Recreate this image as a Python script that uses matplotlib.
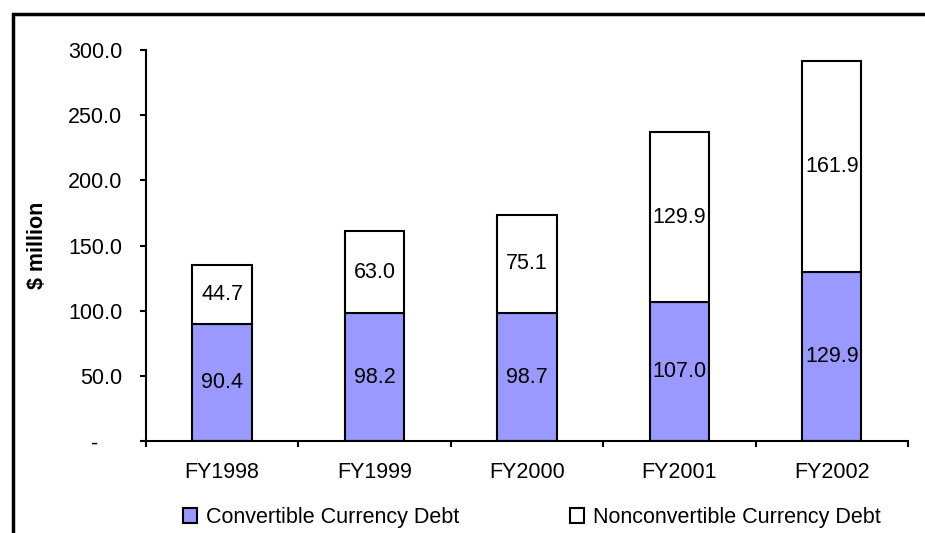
import numpy as np
import matplotlib.pyplot as plt
import matplotlib.transforms as mtransforms
from matplotlib.patches import Patch, Rectangle

plt.rcParams['font.family'] = ['Liberation Sans', 'DejaVu Sans']

# Debt by fiscal year ($ million)
years = ["FY1998", "FY1999", "FY2000", "FY2001", "FY2002"]
convertible = [90.4, 98.2, 98.7, 107.0, 129.9]
nonconvertible = [44.7, 63.0, 75.1, 129.9, 161.9]
yticks = [0, 50, 100, 150, 200, 250, 300]

conv_color = "#9999FF"
fs = 15.5

fig = plt.figure(figsize=(9.25, 5.33), dpi=100)
ax = fig.add_axes([0.1578, 0.1717, 0.8238, 0.7345])

x = np.arange(len(years))
w = 0.39
ax.bar(x, convertible, width=w, color=conv_color, edgecolor="black", linewidth=1.5, zorder=2)
ax.bar(x, nonconvertible, width=w, bottom=convertible, color="white", edgecolor="black",
       linewidth=1.5, zorder=2)

for xi, c, n in zip(x, convertible, nonconvertible):
    ax.text(xi, c / 2, f"{c:.1f}", ha="center", va="center", fontsize=fs)
    ax.text(xi, c + n / 2, f"{n:.1f}", ha="center", va="center", fontsize=fs)

ax.set_xlim(-0.5, len(years) - 0.5)
ax.set_ylim(0, 300)

# ticks sit between the categories, labels in the middle
ax.set_xticks(np.arange(len(years) + 1) - 0.5)
ax.set_xticklabels([])
ax.set_xticks(x, minor=True)
ax.set_xticklabels(years, minor=True, fontsize=fs)
ax.tick_params(axis="x", which="minor", length=0, pad=15)
ax.tick_params(axis="x", which="major", direction="out", length=4.5, width=1.5)

ax.set_yticks(yticks)
ax.set_yticklabels(["-" if v == 0 else f"{v:.1f}" for v in yticks], fontsize=fs)
ax.tick_params(axis="y", direction="out", length=4.5, width=1.5, pad=12.5)
zero_lbl = ax.get_yticklabels()[0]
zero_lbl.set_transform(zero_lbl.get_transform() +
                       mtransforms.ScaledTranslation(-24 / 100, 0, fig.dpi_scale_trans))

for s in ["top", "right"]:
    ax.spines[s].set_visible(False)
ax.spines["left"].set_linewidth(1.5)
ax.spines["bottom"].set_linewidth(1.5)

ax.set_ylabel("$ million", fontsize=fs, fontweight="bold")
ax.yaxis.set_label_coords(-0.1286, 0.5)

handles = [Patch(facecolor=conv_color, edgecolor="black", linewidth=1.5),
           Patch(facecolor="white", edgecolor="black", linewidth=1.5)]
fig.legend(handles, ["Convertible Currency Debt", "Nonconvertible Currency Debt"],
           loc="center", bbox_to_anchor=(0.575, 0.029), ncol=2, frameon=False,
           fontsize=fs, handlelength=0.65, handleheight=0.65, handletextpad=0.4,
           columnspacing=5.15)

# outer frame
fig.patches.append(Rectangle((12.5 / 925, -0.1), 1.2, 1.1 - 14.5 / 533, transform=fig.transFigure,
                             fill=False, edgecolor="black", linewidth=2.5))

fig.savefig("out.png", dpi=100)
